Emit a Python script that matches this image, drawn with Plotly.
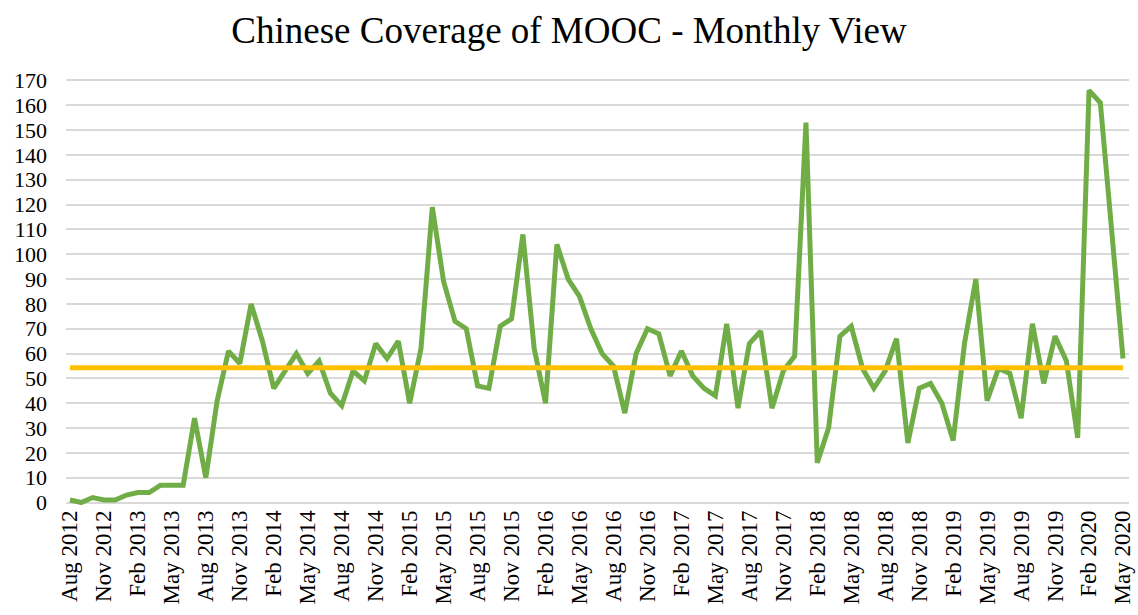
import pandas as pd
import plotly.graph_objects as go

# Monthly article counts, Aug 2012 – May 2020
months = [d.strftime("%b %Y") for d in pd.date_range("2012-08-01", "2020-05-01", freq="MS")]
counts = [
    1, 0, 2, 1, 1, 3, 4, 4, 7, 7, 7, 34, 10,
    41, 61, 56, 80, 65, 46, 53, 60,
    52, 57, 44, 39, 53, 49, 64, 58, 65, 40, 62,
    119, 89, 73, 70, 47, 46, 71, 74, 108, 62, 40,
    104, 90, 83, 70, 60, 55, 36, 60, 70, 68, 51, 61, 51,
    46, 43, 72, 38, 64, 69, 38, 53, 59, 153, 16, 30, 67, 71,
    54, 46, 53, 66, 24, 46, 48, 40, 25, 64, 90, 41, 54, 52, 34, 72,
    48, 67, 57, 26, 166, 161, 110, 58,
]
average = sum(counts) / len(counts)

tick_labels = months[::3]
y_ticks = list(range(0, 171, 10))

fig = go.Figure()
fig.add_trace(go.Scatter(
    x=months, y=counts, mode="lines",
    line=dict(color="#70AD47", width=5, shape="linear"),
    name="Articles",
))
fig.add_trace(go.Scatter(
    x=months, y=[average] * len(months), mode="lines",
    line=dict(color="#FFC000", width=5),
    name="Average",
))

font_family = "'Times New Roman', 'Liberation Serif', 'DejaVu Serif', serif"
fig.update_layout(
    width=1138, height=615,
    margin=dict(l=66, r=9, t=77.5, b=109.5, autoexpand=False),
    paper_bgcolor="white", plot_bgcolor="white",
    showlegend=False,
    font=dict(family=font_family, color="black", size=23),
    title=dict(
        text="Chinese Coverage of MOOC - Monthly View",
        x=0.5, xanchor="center", y=1 - 30 / 615, yanchor="middle",
        yref="container",
        font=dict(family=font_family, size=37, color="black"),
    ),
    xaxis=dict(
        type="category",
        range=[-0.35, 93.53],
        tickmode="array", tickvals=tick_labels, ticktext=tick_labels,
        tickangle=-90, showgrid=False, zeroline=False, showline=False,
        ticks="", tickfont=dict(family=font_family, size=23),
        automargin=False,
    ),
    yaxis=dict(
        range=[-1, 171],
        tickmode="array", tickvals=y_ticks,
        showgrid=True, gridcolor="#D9D9D9", gridwidth=1.5,
        zeroline=False, showline=False, ticks="",
        tickfont=dict(family=font_family, size=22), ticklabelstandoff=18,
        automargin=False,
    ),
)

fig.write_html("out.html")
